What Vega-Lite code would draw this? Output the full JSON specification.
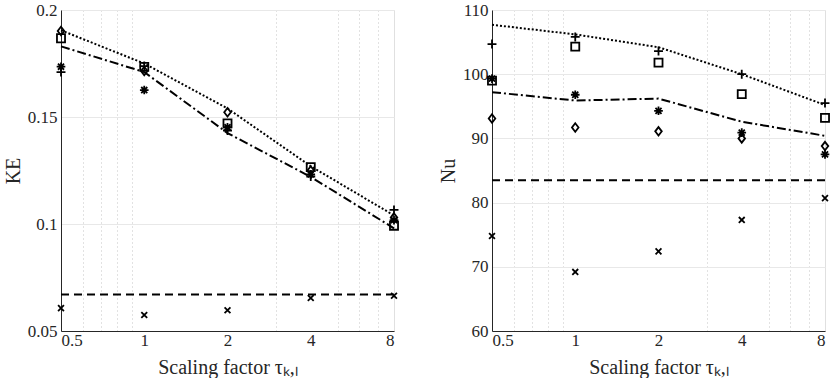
{
  "$schema": "https://vega.github.io/schema/vega-lite/v6.json",
  "padding": {"left": 2, "top": 0, "right": 0, "bottom": 0},
  "background": "white",
  "spacing": 35,
  "config": {
    "font": "Liberation Serif",
    "view": {"stroke": "#e0e0e0", "strokeWidth": 1},
    "axis": {
      "labelFont": "Liberation Serif",
      "titleFont": "Liberation Serif",
      "labelFontSize": 17,
      "titleFontSize": 20,
      "titleFontWeight": "normal",
      "labelColor": "#262626",
      "titleColor": "#262626",
      "domainColor": "#262626",
      "domainWidth": 1,
      "ticks": false,
      "gridColor": "#e8e8e8",
      "gridWidth": 1
    }
  },
  "datasets": {
    "pts": [
      {"panel": "KE", "tau": 0.5, "series": "plus", "value": 0.171},
      {"panel": "KE", "tau": 0.5, "series": "asterisk", "value": 0.1735},
      {"panel": "KE", "tau": 0.5, "series": "cross", "value": 0.0607},
      {"panel": "KE", "tau": 0.5, "series": "square", "value": 0.1868},
      {"panel": "KE", "tau": 0.5, "series": "diamond", "value": 0.1902},
      {"panel": "KE", "tau": 1, "series": "plus", "value": 0.1738},
      {"panel": "KE", "tau": 1, "series": "asterisk", "value": 0.1626},
      {"panel": "KE", "tau": 1, "series": "cross", "value": 0.0575},
      {"panel": "KE", "tau": 1, "series": "square", "value": 0.1734},
      {"panel": "KE", "tau": 1, "series": "diamond", "value": 0.1715},
      {"panel": "KE", "tau": 2, "series": "plus", "value": 0.1437},
      {"panel": "KE", "tau": 2, "series": "asterisk", "value": 0.1452},
      {"panel": "KE", "tau": 2, "series": "cross", "value": 0.0597},
      {"panel": "KE", "tau": 2, "series": "square", "value": 0.147},
      {"panel": "KE", "tau": 2, "series": "diamond", "value": 0.1522},
      {"panel": "KE", "tau": 4, "series": "plus", "value": 0.1222},
      {"panel": "KE", "tau": 4, "series": "asterisk", "value": 0.1232},
      {"panel": "KE", "tau": 4, "series": "cross", "value": 0.0654},
      {"panel": "KE", "tau": 4, "series": "square", "value": 0.1266},
      {"panel": "KE", "tau": 4, "series": "diamond", "value": 0.125},
      {"panel": "KE", "tau": 8, "series": "plus", "value": 0.1066},
      {"panel": "KE", "tau": 8, "series": "asterisk", "value": 0.1018},
      {"panel": "KE", "tau": 8, "series": "cross", "value": 0.0665},
      {"panel": "KE", "tau": 8, "series": "square", "value": 0.0992},
      {"panel": "KE", "tau": 8, "series": "diamond", "value": 0.103},
      {"panel": "Nu", "tau": 0.5, "series": "plus", "value": 104.7},
      {"panel": "Nu", "tau": 0.5, "series": "asterisk", "value": 99.3},
      {"panel": "Nu", "tau": 0.5, "series": "cross", "value": 74.8},
      {"panel": "Nu", "tau": 0.5, "series": "square", "value": 99.0},
      {"panel": "Nu", "tau": 0.5, "series": "diamond", "value": 93.1},
      {"panel": "Nu", "tau": 1, "series": "plus", "value": 105.8},
      {"panel": "Nu", "tau": 1, "series": "asterisk", "value": 96.8},
      {"panel": "Nu", "tau": 1, "series": "cross", "value": 69.2},
      {"panel": "Nu", "tau": 1, "series": "square", "value": 104.3},
      {"panel": "Nu", "tau": 1, "series": "diamond", "value": 91.7},
      {"panel": "Nu", "tau": 2, "series": "plus", "value": 103.6},
      {"panel": "Nu", "tau": 2, "series": "asterisk", "value": 94.3},
      {"panel": "Nu", "tau": 2, "series": "cross", "value": 72.4},
      {"panel": "Nu", "tau": 2, "series": "square", "value": 101.8},
      {"panel": "Nu", "tau": 2, "series": "diamond", "value": 91.1},
      {"panel": "Nu", "tau": 4, "series": "plus", "value": 100.0},
      {"panel": "Nu", "tau": 4, "series": "asterisk", "value": 90.9},
      {"panel": "Nu", "tau": 4, "series": "cross", "value": 77.3},
      {"panel": "Nu", "tau": 4, "series": "square", "value": 96.9},
      {"panel": "Nu", "tau": 4, "series": "diamond", "value": 90.0},
      {"panel": "Nu", "tau": 8, "series": "plus", "value": 95.5},
      {"panel": "Nu", "tau": 8, "series": "asterisk", "value": 87.5},
      {"panel": "Nu", "tau": 8, "series": "cross", "value": 80.7},
      {"panel": "Nu", "tau": 8, "series": "square", "value": 93.2},
      {"panel": "Nu", "tau": 8, "series": "diamond", "value": 88.8}
    ],
    "lines": [
      {"panel": "KE", "tau": 0.5, "style": "dotted", "value": 0.1905},
      {"panel": "KE", "tau": 1, "style": "dotted", "value": 0.175},
      {"panel": "KE", "tau": 2, "style": "dotted", "value": 0.154},
      {"panel": "KE", "tau": 4, "style": "dotted", "value": 0.127},
      {"panel": "KE", "tau": 8, "style": "dotted", "value": 0.104},
      {"panel": "KE", "tau": 0.5, "style": "dashdot", "value": 0.183},
      {"panel": "KE", "tau": 1, "style": "dashdot", "value": 0.171},
      {"panel": "KE", "tau": 2, "style": "dashdot", "value": 0.1425},
      {"panel": "KE", "tau": 4, "style": "dashdot", "value": 0.122},
      {"panel": "KE", "tau": 8, "style": "dashdot", "value": 0.098},
      {"panel": "KE", "tau": 0.5, "style": "dashed", "value": 0.067},
      {"panel": "KE", "tau": 8, "style": "dashed", "value": 0.067},
      {"panel": "Nu", "tau": 0.5, "style": "dotted", "value": 107.7},
      {"panel": "Nu", "tau": 1, "style": "dotted", "value": 106.2},
      {"panel": "Nu", "tau": 2, "style": "dotted", "value": 104.2},
      {"panel": "Nu", "tau": 4, "style": "dotted", "value": 100.0},
      {"panel": "Nu", "tau": 8, "style": "dotted", "value": 95.2},
      {"panel": "Nu", "tau": 0.5, "style": "dashdot", "value": 97.2},
      {"panel": "Nu", "tau": 1, "style": "dashdot", "value": 95.9},
      {"panel": "Nu", "tau": 2, "style": "dashdot", "value": 96.2},
      {"panel": "Nu", "tau": 4, "style": "dashdot", "value": 92.6},
      {"panel": "Nu", "tau": 8, "style": "dashdot", "value": 90.4},
      {"panel": "Nu", "tau": 0.5, "style": "dashed", "value": 83.5},
      {"panel": "Nu", "tau": 8, "style": "dashed", "value": 83.5}
    ]
  },
  "hconcat": [
    {
      "width": 333,
      "height": 321,
      "resolve": {"axis": {"x": "independent"}},
      "layer": [
        {
          "data": {"name": "lines"},
          "transform": [{"filter": "datum.panel === 'KE'"}],
          "mark": {"type": "line", "color": "black", "strokeWidth": 2},
          "encoding": {
            "x": {"field": "tau", "type": "quantitative",
              "scale": {"type": "log", "base": 2, "domain": [0.5, 8], "nice": false},
              "axis": {"orient": "bottom", "values": [0.6, 0.7, 0.8, 0.9, 3, 5, 6, 7], "labels": false, "domain": false, "title": null, "gridDash": [1, 3], "gridColor": "#c4c4c4", "zindex": 0}},
            "y": {"field": "value", "type": "quantitative",
              "scale": {"domain": [0.05, 0.2], "zero": false, "nice": false},
              "axis": {"values": [0.05, 0.1, 0.15, 0.2], "format": "~g", "title": "KE", "titlePadding": 4, "labelPadding": 4}},
            "detail": {"field": "style"},
            "strokeDash": {"field": "style", "type": "nominal", "legend": null,
              "scale": {"domain": ["dotted", "dashdot", "dashed"], "range": [[2, 2], [9, 3, 2, 3], [8, 5]]}}
          }
        },
        {
          "data": {"name": "pts"},
          "transform": [{"filter": "datum.panel === 'KE'"}],
          "mark": {"type": "point", "filled": false, "strokeWidth": 1.8, "color": "black", "opacity": 1},
          "encoding": {
            "x": {"field": "tau", "type": "quantitative",
              "scale": {"type": "log", "base": 2, "domain": [0.5, 8], "nice": false},
              "axis": {"orient": "bottom", "values": [0.5, 1, 2, 4, 8], "format": "~g", "title": "Scaling factor τₖ,ₗ", "labelPadding": 1, "titlePadding": 9}},
            "y": {"field": "value", "type": "quantitative",
              "scale": {"domain": [0.05, 0.2], "zero": false, "nice": false}},
            "shape": {"field": "series", "type": "nominal", "legend": null,
              "scale": {"domain": ["plus", "asterisk", "cross", "square", "diamond"],
                "range": ["M-1,0L1,0M0,-1L0,1", "M-1,0L1,0M0,-1L0,1M-0.7,-0.7L0.7,0.7M-0.7,0.7L0.7,-0.7", "M-0.7,-0.7L0.7,0.7M-0.7,0.7L0.7,-0.7", "square", "M0,-1.1L0.85,0L0,1.1L-0.85,0Z"]}},
            "size": {"field": "series", "type": "nominal", "legend": null,
              "scale": {"domain": ["plus", "asterisk", "cross", "square", "diamond"], "range": [80, 60, 60, 55, 95]}}
          }
        }
      ]
    },
    {
      "width": 333,
      "height": 321,
      "resolve": {"axis": {"x": "independent"}},
      "layer": [
        {
          "data": {"name": "lines"},
          "transform": [{"filter": "datum.panel === 'Nu'"}],
          "mark": {"type": "line", "color": "black", "strokeWidth": 2},
          "encoding": {
            "x": {"field": "tau", "type": "quantitative",
              "scale": {"type": "log", "base": 2, "domain": [0.5, 8], "nice": false},
              "axis": {"orient": "bottom", "values": [0.6, 0.7, 0.8, 0.9, 3, 5, 6, 7], "labels": false, "domain": false, "title": null, "gridDash": [1, 3], "gridColor": "#c4c4c4", "zindex": 0}},
            "y": {"field": "value", "type": "quantitative",
              "scale": {"domain": [60, 110], "zero": false, "nice": false},
              "axis": {"values": [60, 70, 80, 90, 100, 110], "format": "~g", "title": "Nu", "titlePadding": 4, "labelPadding": 4}},
            "detail": {"field": "style"},
            "strokeDash": {"field": "style", "type": "nominal", "legend": null,
              "scale": {"domain": ["dotted", "dashdot", "dashed"], "range": [[2, 2], [9, 3, 2, 3], [8, 5]]}}
          }
        },
        {
          "data": {"name": "pts"},
          "transform": [{"filter": "datum.panel === 'Nu'"}],
          "mark": {"type": "point", "filled": false, "strokeWidth": 1.8, "color": "black", "opacity": 1},
          "encoding": {
            "x": {"field": "tau", "type": "quantitative",
              "scale": {"type": "log", "base": 2, "domain": [0.5, 8], "nice": false},
              "axis": {"orient": "bottom", "values": [0.5, 1, 2, 4, 8], "format": "~g", "title": "Scaling factor τₖ,ₗ", "labelPadding": 1, "titlePadding": 9}},
            "y": {"field": "value", "type": "quantitative",
              "scale": {"domain": [60, 110], "zero": false, "nice": false}},
            "shape": {"field": "series", "type": "nominal", "legend": null,
              "scale": {"domain": ["plus", "asterisk", "cross", "square", "diamond"],
                "range": ["M-1,0L1,0M0,-1L0,1", "M-1,0L1,0M0,-1L0,1M-0.7,-0.7L0.7,0.7M-0.7,0.7L0.7,-0.7", "M-0.7,-0.7L0.7,0.7M-0.7,0.7L0.7,-0.7", "square", "M0,-1.1L0.85,0L0,1.1L-0.85,0Z"]}},
            "size": {"field": "series", "type": "nominal", "legend": null,
              "scale": {"domain": ["plus", "asterisk", "cross", "square", "diamond"], "range": [80, 60, 60, 55, 95]}}
          }
        }
      ]
    }
  ]
}
